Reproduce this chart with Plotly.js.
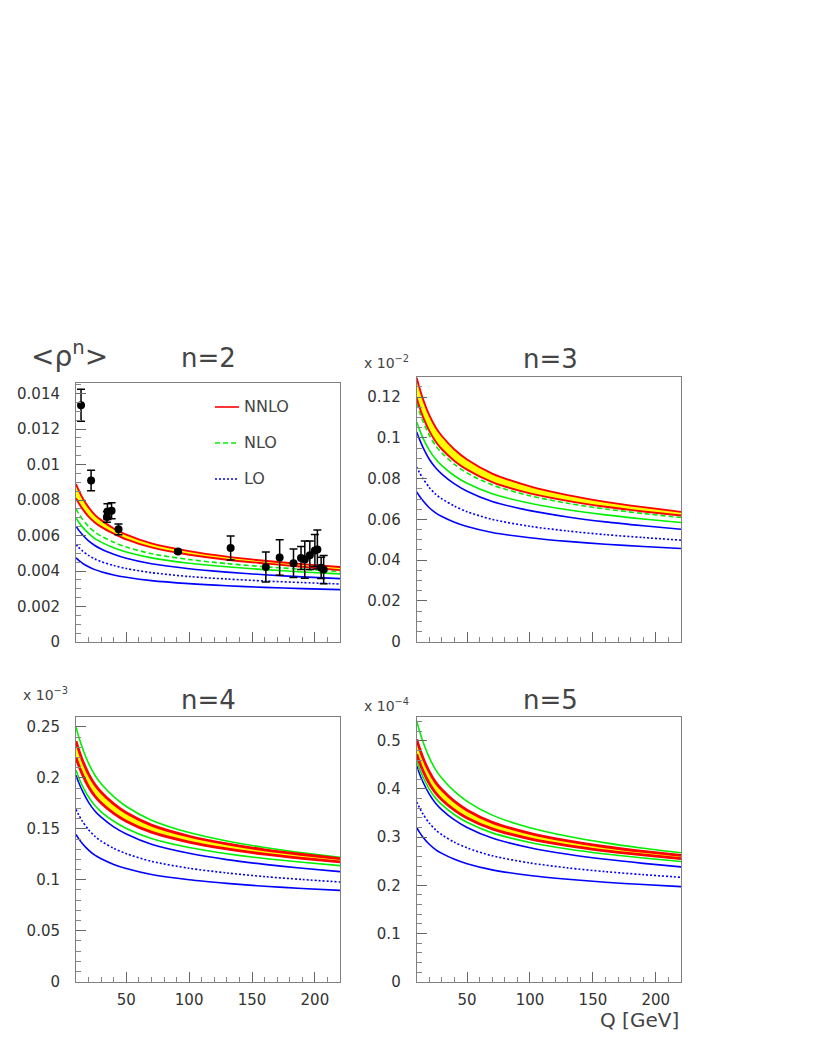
<!DOCTYPE html>
<html>
<head>
<meta charset="utf-8">
<script src="https://cdn.plot.ly/plotly-3.0.1.min.js"></script>
<style>html,body{margin:0;padding:0;background:#fff;}#chart{width:817px;height:1058px;}</style>
</head>
<body>
<div id="chart"></div>
<script>
// ---------- data ----------
const Q = [10, 12, 15, 20, 25, 30, 40, 50, 70, 100, 130, 160, 190, 220];

// n = 2
const n2_nnlo_hi = [0.0089, 0.00857, 0.00815, 0.00759, 0.00717, 0.00687, 0.0064, 0.00605, 0.00556, 0.00512, 0.00481, 0.00458, 0.00439, 0.00423];
const n2_nnlo_lo = [0.0081, 0.00785, 0.00752, 0.00707, 0.00674, 0.00649, 0.00611, 0.00578, 0.00533, 0.00492, 0.00464, 0.00443, 0.00424, 0.00405];
const n2_nlo_mid = [0.0075, 0.00725, 0.00694, 0.00651, 0.0062, 0.00597, 0.00562, 0.00535, 0.00498, 0.00465, 0.00442, 0.00424, 0.0041, 0.00398];
const n2_nlo_lo  = [0.0070, 0.00678, 0.00649, 0.00612, 0.00583, 0.00563, 0.00531, 0.00507, 0.00474, 0.00444, 0.00424, 0.00408, 0.00395, 0.00384];
const n2_lo_hi   = [0.00653, 0.00632, 0.00606, 0.0057, 0.00544, 0.00524, 0.00495, 0.00472, 0.00441, 0.00413, 0.00394, 0.00379, 0.00367, 0.00357];
const n2_lo_mid  = [0.0055, 0.00534, 0.00514, 0.00488, 0.00468, 0.00453, 0.00431, 0.00414, 0.00391, 0.00369, 0.00355, 0.00344, 0.00335, 0.00327];
const n2_lo_lo   = [0.00474, 0.00462, 0.00445, 0.00424, 0.00408, 0.00396, 0.00378, 0.00365, 0.00346, 0.00329, 0.00317, 0.00308, 0.00301, 0.00295];

// n = 2 measurements
const dataQ   = [14, 22, 34.6, 35, 38.3, 43.8, 91.2, 133, 161, 172, 183, 189, 192, 196, 200, 202, 205, 207];
const dataVal = [0.01335, 0.0091, 0.00705, 0.00735, 0.0074, 0.00635, 0.0051, 0.0053, 0.00423, 0.00476, 0.00444, 0.00474, 0.00465, 0.00489, 0.00516, 0.00521, 0.00418, 0.00408];
const dataErr = [0.0009, 0.00058, 0.0003, 0.00045, 0.00045, 0.0003, 0.0001, 0.00068, 0.00085, 0.001, 0.0008, 0.00065, 0.00105, 0.0008, 0.0009, 0.0011, 0.0006, 0.0008];

// n = 3 (x 10^-2)
const n3_nnlo_hi = [0.1295, 0.1249, 0.1190, 0.1111, 0.1052, 0.1009, 0.0943, 0.0894, 0.0825, 0.0762, 0.0719, 0.0686, 0.0660, 0.0637];
const n3_nnlo_lo = [0.1195, 0.1155, 0.1103, 0.1034, 0.0982, 0.0944, 0.0887, 0.0844, 0.0783, 0.0728, 0.0691, 0.0662, 0.0639, 0.0619];
const n3_nlo_mid = [0.1170, 0.1131, 0.1080, 0.1013, 0.0962, 0.0926, 0.0870, 0.0828, 0.0769, 0.0716, 0.0679, 0.0651, 0.0629, 0.0609];
const n3_nlo_lo  = [0.1078, 0.1044, 0.0999, 0.0940, 0.0896, 0.0864, 0.0814, 0.0777, 0.0726, 0.0679, 0.0647, 0.0622, 0.0602, 0.0585];
const n3_lo_hi   = [0.1029, 0.0996, 0.0953, 0.0895, 0.0853, 0.0822, 0.0774, 0.0738, 0.0688, 0.0643, 0.0612, 0.0588, 0.0569, 0.0552];
const n3_lo_mid  = [0.0857, 0.0832, 0.0800, 0.0757, 0.0724, 0.0701, 0.0665, 0.0638, 0.0600, 0.0566, 0.0543, 0.0525, 0.0511, 0.0498];
const n3_lo_lo   = [0.0735, 0.0716, 0.0691, 0.0657, 0.0632, 0.0614, 0.0586, 0.0565, 0.0536, 0.0510, 0.0492, 0.0478, 0.0467, 0.0457];

// n = 4 (x 10^-3)
const n4_nlo_hi  = [0.2500, 0.2410, 0.2295, 0.2142, 0.2026, 0.1943, 0.1815, 0.1719, 0.1585, 0.1463, 0.1380, 0.1316, 0.1265, 0.1220];
const n4_nnlo_hi = [0.2360, 0.2279, 0.2176, 0.2037, 0.1934, 0.1859, 0.1744, 0.1657, 0.1536, 0.1427, 0.1352, 0.1294, 0.1248, 0.1208];
const n4_nnlo_lo = [0.2200, 0.2128, 0.2036, 0.1913, 0.1821, 0.1754, 0.1652, 0.1575, 0.1467, 0.1370, 0.1303, 0.1252, 0.1211, 0.1175];
const n4_nlo_lo  = [0.2074, 0.2009, 0.1924, 0.1812, 0.1728, 0.1667, 0.1574, 0.1504, 0.1406, 0.1317, 0.1256, 0.1209, 0.1172, 0.1139];
const n4_lo_hi   = [0.2025, 0.1959, 0.1874, 0.1760, 0.1675, 0.1614, 0.1519, 0.1449, 0.1349, 0.1260, 0.1198, 0.1151, 0.1113, 0.1080];
const n4_lo_mid  = [0.1690, 0.1640, 0.1576, 0.1491, 0.1427, 0.1380, 0.1309, 0.1256, 0.1181, 0.1113, 0.1067, 0.1031, 0.1003, 0.0978];
const n4_lo_lo   = [0.1444, 0.1406, 0.1356, 0.1291, 0.1241, 0.1206, 0.1151, 0.1110, 0.1052, 0.1000, 0.0965, 0.0937, 0.0915, 0.0896];

// n = 5 (x 10^-4)
const n5_nlo_hi  = [0.5417, 0.5225, 0.4978, 0.4649, 0.4403, 0.4224, 0.3950, 0.3744, 0.3457, 0.3196, 0.3018, 0.2881, 0.2771, 0.2675];
const n5_nnlo_hi = [0.5030, 0.4861, 0.4644, 0.4355, 0.4138, 0.3982, 0.3741, 0.3560, 0.3307, 0.3078, 0.2921, 0.2801, 0.2704, 0.2620];
const n5_nnlo_lo = [0.4720, 0.4569, 0.4374, 0.4114, 0.3919, 0.3778, 0.3562, 0.3399, 0.3172, 0.2966, 0.2826, 0.2717, 0.2631, 0.2555];
const n5_nlo_lo  = [0.4583, 0.4437, 0.4249, 0.3998, 0.3810, 0.3674, 0.3465, 0.3309, 0.3089, 0.2891, 0.2755, 0.2651, 0.2567, 0.2494];
const n5_lo_hi   = [0.4480, 0.4333, 0.4145, 0.3893, 0.3704, 0.3568, 0.3358, 0.3201, 0.2981, 0.2781, 0.2645, 0.2540, 0.2456, 0.2383];
const n5_lo_mid  = [0.3730, 0.3621, 0.3480, 0.3292, 0.3152, 0.3050, 0.2894, 0.2777, 0.2613, 0.2464, 0.2362, 0.2284, 0.2222, 0.2167];
const n5_lo_lo   = [0.3195, 0.3110, 0.3000, 0.2853, 0.2743, 0.2663, 0.2541, 0.2450, 0.2321, 0.2205, 0.2126, 0.2065, 0.2016, 0.1973];

// tick labels
const xTickVals = [50, 100, 150, 200];
const xTickText = ['50', '100', '150', '200'];
const y1TickVals = [0, 0.002, 0.004, 0.006, 0.008, 0.01, 0.012, 0.014];
const y1TickText = ['0', '0.002', '0.004', '0.006', '0.008', '0.01', '0.012', '0.014'];
const y2TickVals = [0, 0.02, 0.04, 0.06, 0.08, 0.1, 0.12];
const y2TickText = ['0', '0.02', '0.04', '0.06', '0.08', '0.1', '0.12'];
const y3TickVals = [0, 0.05, 0.1, 0.15, 0.2, 0.25];
const y3TickText = ['0', '0.05', '0.1', '0.15', '0.2', '0.25'];
const y4TickVals = [0, 0.1, 0.2, 0.3, 0.4, 0.5];
const y4TickText = ['0', '0.1', '0.2', '0.3', '0.4', '0.5'];

// ---------- styles ----------
const RED = '#ff0000', YEL = '#ffff00', GRN = '#00f000', BLU = '#0000ff';
const DASH = '5px,3px', DOT = '2px,2px';
const FONT = 'DejaVu Sans';

function line(x, y, ax, color, dash, width) {
  return {x: x, y: y, xaxis: 'x' + ax, yaxis: 'y' + ax, type: 'scatter', mode: 'lines',
          line: {color: color, dash: dash || 'solid', width: width || 1.6, shape: 'spline', smoothing: 0.8},
          hoverinfo: 'skip', showlegend: false};
}
function band(lo, hi, ax, w) {
  const a = line(Q, lo, ax, RED, 'solid', w);
  const b = line(Q, hi, ax, RED, 'solid', w);
  b.fill = 'tonexty'; b.fillcolor = YEL;
  return [a, b];
}

const traces = [];
// panel 1 (n=2)
traces.push(line(Q, n2_lo_lo, '', BLU), line(Q, n2_lo_mid, '', BLU, DOT), line(Q, n2_lo_hi, '', BLU));
traces.push(line(Q, n2_nlo_lo, '', GRN), line(Q, n2_nlo_mid, '', GRN, DASH));
traces.push(...band(n2_nnlo_lo, n2_nnlo_hi, '', 1.9));
traces.push({x: dataQ, y: dataVal, xaxis: 'x', yaxis: 'y', type: 'scatter', mode: 'markers',
  marker: {color: '#000', size: 8},
  error_y: {type: 'data', array: dataErr, visible: true, color: '#000', thickness: 1.5, width: 4},
  hoverinfo: 'skip', showlegend: false});
// panel 2 (n=3)
traces.push(line(Q, n3_lo_lo, '2', BLU), line(Q, n3_lo_mid, '2', BLU, DOT), line(Q, n3_lo_hi, '2', BLU));
traces.push(line(Q, n3_nlo_lo, '2', GRN), line(Q, n3_nlo_mid, '2', GRN, DASH));
traces.push(...band(n3_nnlo_lo, n3_nnlo_hi, '2', 1.9));
// panel 3 (n=4)
traces.push(line(Q, n4_lo_lo, '3', BLU), line(Q, n4_lo_mid, '3', BLU, DOT), line(Q, n4_lo_hi, '3', BLU));
traces.push(line(Q, n4_nlo_lo, '3', GRN), line(Q, n4_nlo_hi, '3', GRN));
traces.push(...band(n4_nnlo_lo, n4_nnlo_hi, '3', 2.8));
// panel 4 (n=5)
traces.push(line(Q, n5_lo_lo, '4', BLU), line(Q, n5_lo_mid, '4', BLU, DOT), line(Q, n5_lo_hi, '4', BLU));
traces.push(line(Q, n5_nlo_lo, '4', GRN), line(Q, n5_nlo_hi, '4', GRN));
traces.push(...band(n5_nnlo_lo, n5_nnlo_hi, '4', 2.8));

const W = 817, H = 1058;
const px = v => v / W, py = v => 1 - v / H;

function xax(l, r, anchor, labels) {
  return {domain: [px(l), px(r)], anchor: anchor, range: [10, 220],
    showgrid: false, zeroline: false, showline: true, mirror: true, linecolor: '#808080', linewidth: 1,
    ticks: 'inside', ticklen: 10, tickcolor: '#666', tickwidth: 1,
    tickmode: 'array', tickvals: xTickVals, ticktext: xTickText, showticklabels: labels,
    ticklabelstandoff: 4,
    tickfont: {family: FONT, size: 15, color: '#333'},
    minor: {ticks: 'inside', ticklen: 5, tickcolor: '#888', tickmode: 'linear', tick0: 0, dtick: 10, showgrid: false}};
}
function yax(t, b, anchor, top, vals, text, mdt) {
  return {domain: [py(b), py(t)], anchor: anchor, range: [0, top],
    showgrid: false, zeroline: false, showline: true, mirror: true, linecolor: '#808080', linewidth: 1,
    ticks: 'inside', ticklen: 10, tickcolor: '#666', tickwidth: 1,
    tickmode: 'array', tickvals: vals, ticktext: text, ticklabelstandoff: 12,
    tickfont: {family: FONT, size: 15, color: '#333'},
    minor: {ticks: 'inside', ticklen: 5, tickcolor: '#888', tickmode: 'linear', tick0: 0, dtick: mdt, showgrid: false}};
}

const ann = (x, y, text, size, xa, ya) => ({xref: 'paper', yref: 'paper', x: px(x), y: py(y), text: text,
  showarrow: false, xanchor: xa || 'center', yanchor: ya || 'middle', font: {family: FONT, size: size, color: '#444'}});

const layout = {
  width: W, height: H, margin: {l: 0, r: 0, t: 0, b: 0},
  paper_bgcolor: '#fff', plot_bgcolor: '#fff', showlegend: false,
  xaxis: xax(76, 340, 'y', false),
  yaxis: yax(383, 642, 'x', 0.0146, y1TickVals, y1TickText, 0.0005),
  xaxis2: xax(416.7, 681, 'y2', false),
  yaxis2: yax(376.7, 641.7, 'x2', 0.13, y2TickVals, y2TickText, 0.005),
  xaxis3: xax(76, 340, 'y3', true),
  yaxis3: yax(716.7, 981.7, 'x3', 0.26, y3TickVals, y3TickText, 0.01),
  xaxis4: xax(416.7, 681, 'y4', true),
  yaxis4: yax(716.7, 981.7, 'x4', 0.55, y4TickVals, y4TickText, 0.02),
  annotations: [
    ann(69, 354, '&lt;&#961;<sup>n</sup>&gt;', 28),
    ann(208, 358, 'n=2', 26),
    ann(550, 359, 'n=3', 26),
    ann(208, 700, 'n=4', 26),
    ann(550, 700, 'n=5', 26),
    ann(362, 362, 'x 10<sup>&#8722;2</sup>', 14, 'left'),
    ann(21, 694, 'x 10<sup>&#8722;3</sup>', 14, 'left'),
    ann(362, 705, 'x 10<sup>&#8722;4</sup>', 14, 'left'),
    ann(681, 1006, 'Q [GeV]', 20, 'right', 'top'),
    ann(242, 406, 'NNLO', 16, 'left'),
    ann(242, 442, 'NLO', 16, 'left'),
    ann(242, 478, 'LO', 16, 'left')
  ],
  shapes: [
    {type: 'line', xref: 'paper', yref: 'paper', x0: px(215), x1: px(239), y0: py(407), y1: py(407), line: {color: RED, width: 1.6}},
    {type: 'line', xref: 'paper', yref: 'paper', x0: px(215), x1: px(239), y0: py(443), y1: py(443), line: {color: GRN, width: 1.6, dash: DASH}},
    {type: 'line', xref: 'paper', yref: 'paper', x0: px(215), x1: px(239), y0: py(479), y1: py(479), line: {color: BLU, width: 1.6, dash: DOT}}
  ]
};

Plotly.newPlot('chart', traces, layout, {staticPlot: true, displayModeBar: false});
</script>
</body>
</html>
